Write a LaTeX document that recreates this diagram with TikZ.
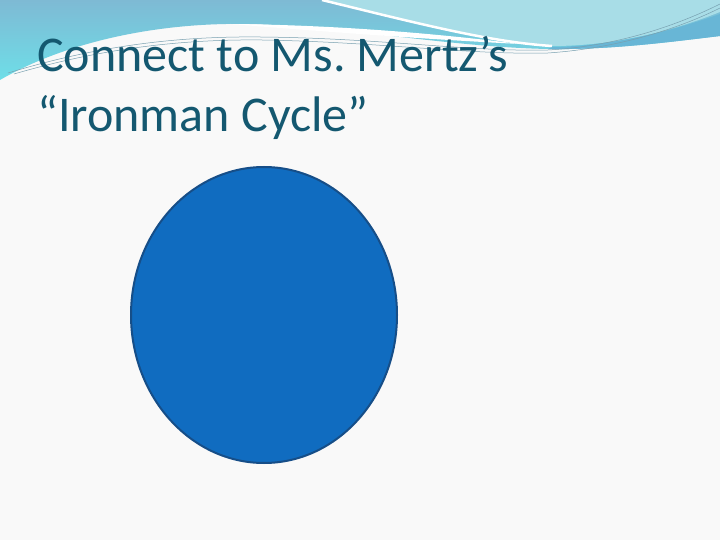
\documentclass[tikz,border=0pt]{standalone}
\usepackage{fontspec}
\setmainfont{Carlito}
\usetikzlibrary{shapes.geometric}
\definecolor{pagebg}{RGB}{249,249,249}
\definecolor{titleteal}{RGB}{20,88,112}
\definecolor{wavetop}{RGB}{126,186,212}
\definecolor{wavelow}{RGB}{110,222,232}
\definecolor{wavelight}{RGB}{168,221,231}
\definecolor{waveedge}{RGB}{104,182,214}
\definecolor{waveline}{RGB}{120,160,176}
\definecolor{cyclefill}{RGB}{16,108,192}
\definecolor{cycledraw}{RGB}{22,78,136}
\begin{document}
\begin{tikzpicture}[
        x=1pt, y=-1pt,
        title/.style={anchor=base west, inner sep=0pt, text=titleteal, font=\fontsize{50}{60}\selectfont},
        bigcycle/.style={ellipse, draw=cycledraw, line width=2pt, fill=cyclefill, minimum width=266pt, minimum height=296pt, inner sep=0pt},
    ]
        \useasboundingbox (0,0) rectangle (720,540);
        \fill[pagebg] (0,0) rectangle (720,540);

        % waves along the top
        \shade[top color=wavetop, bottom color=wavelow]
            (0,0) -- (720,0) -- (720,36) .. controls (670,42) and (610,50) .. (548,49)
            .. controls (450,47) and (350,27) .. (250,24)
            .. controls (150,22) and (60,45) .. (0,80) -- cycle;
        \fill[wavelight] (325,0) .. controls (420,24) and (490,42) .. (552,46)
            .. controls (620,46) and (680,28) .. (720,12) -- (720,0) -- cycle;
        \fill[waveedge] (552,47) .. controls (620,46) and (680,28) .. (720,14)
            -- (720,36) .. controls (670,42) and (610,50) .. (548,49) -- cycle;
        \fill[white] (230,24) .. controls (340,25) and (440,34) .. (520,44)
            .. controls (440,40) and (340,33) .. (230,24) -- cycle;
        \draw[white, line width=2.5pt] (322,0) .. controls (420,24) and (490,42) .. (552,46);
        \draw[waveline, line width=0.5pt] (8,73) .. controls (90,48) and (170,36) .. (260,37)
            .. controls (380,38) and (470,52) .. (548,50) .. controls (620,46) and (680,24) .. (720,4);
        \draw[waveline, line width=0.5pt] (14,74) .. controls (96,50) and (176,39) .. (262,40)
            .. controls (380,42) and (470,55) .. (548,53) .. controls (620,48) and (680,28) .. (720,8);

        % title
        \node[title] (line1) at (37,72) {Connect to Ms.\ Mertz’s};
        \node[title] (line2) at (37,132) {“Ironman Cycle”};

        \node[bigcycle] (ironman) at (264,315) {};
    \end{tikzpicture}
\end{document}
